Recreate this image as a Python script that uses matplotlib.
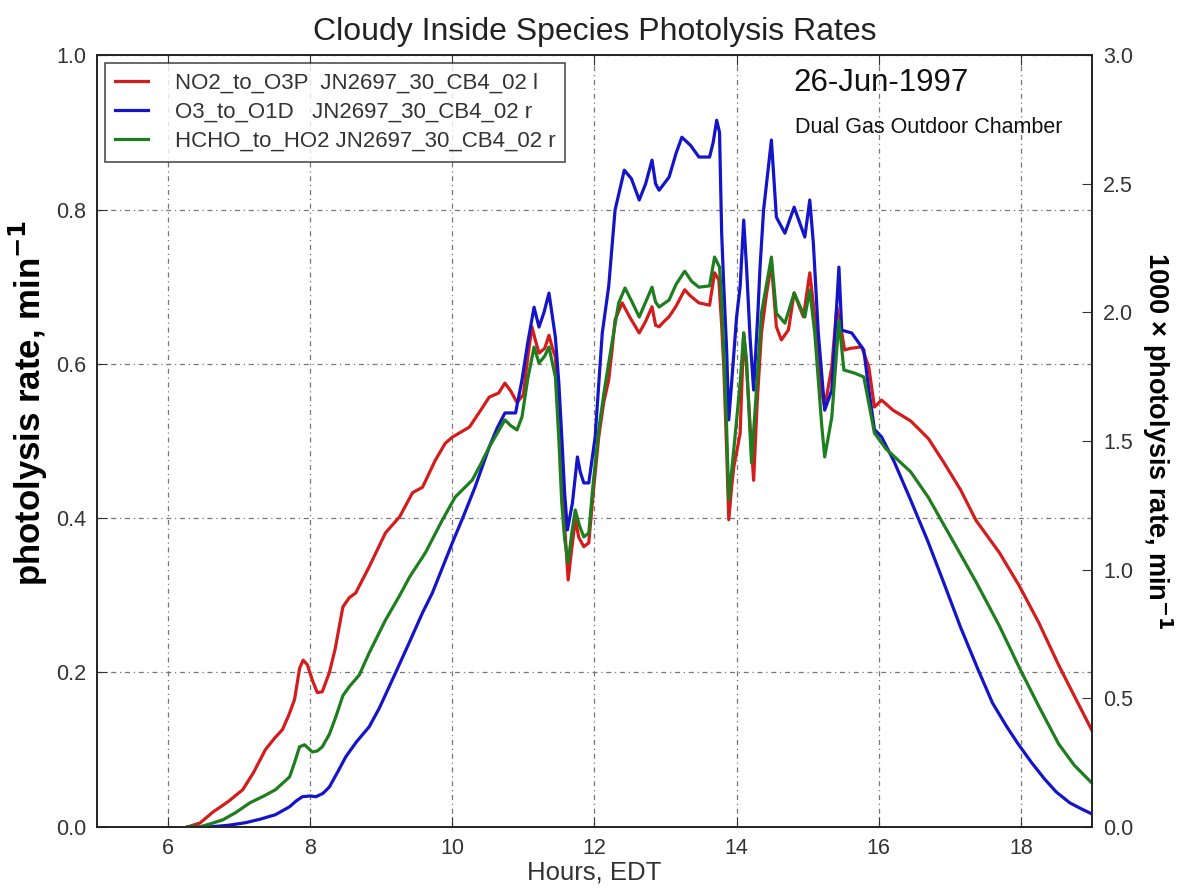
import numpy as np
import matplotlib
matplotlib.use("Agg")
import matplotlib.pyplot as plt

plt.rcParams['font.family'] = ['Liberation Sans', 'DejaVu Sans']

# NO2 -> O3P, left axis (min^-1)
red_hours = [6.28, 6.45, 6.63, 6.85, 7.05, 7.2, 7.37, 7.5, 7.61, 7.7, 7.78, 7.85, 7.9, 7.96,
             8.03, 8.10, 8.17, 8.27, 8.35, 8.46, 8.55, 8.64, 8.83, 8.95, 9.06, 9.26, 9.44, 9.58,
             9.76, 9.9, 10.0, 10.24, 10.4, 10.52, 10.65, 10.74, 10.82, 10.91, 11.0, 11.05, 11.12,
             11.17, 11.22, 11.3, 11.36, 11.41, 11.45, 11.5, 11.54, 11.58, 11.63, 11.68, 11.73,
             11.78, 11.85, 11.92, 11.98, 12.06, 12.13, 12.2, 12.25, 12.29, 12.39, 12.5, 12.63,
             12.72, 12.81, 12.86, 12.91, 12.98, 13.05, 13.15, 13.27, 13.35, 13.47, 13.62, 13.69,
             13.75, 13.79, 13.82, 13.86, 13.89, 13.93, 13.96, 14.01, 14.05, 14.1, 14.14, 14.19,
             14.24, 14.29, 14.35, 14.42, 14.49, 14.56, 14.63, 14.73, 14.81, 14.88, 14.94, 15.03,
             15.1, 15.15, 15.2, 15.24, 15.34, 15.41, 15.48, 15.52, 15.6, 15.76, 15.86, 15.94,
             16.04, 16.2, 16.45, 16.7, 16.91, 17.15, 17.37, 17.7, 17.98, 18.25, 18.53, 18.75, 19.0]
red_vals = [0.0, 0.005, 0.019, 0.033, 0.048, 0.07, 0.10, 0.115, 0.126, 0.145, 0.165, 0.205, 0.216,
            0.21, 0.19, 0.174, 0.175, 0.2, 0.23, 0.285, 0.297, 0.303, 0.337, 0.36, 0.381, 0.402,
            0.433, 0.44, 0.475, 0.497, 0.505, 0.518, 0.54, 0.557, 0.562, 0.575, 0.565, 0.55, 0.56,
            0.6, 0.648, 0.63, 0.614, 0.62, 0.637, 0.62, 0.609, 0.55, 0.462, 0.39, 0.32, 0.36,
            0.398, 0.375, 0.363, 0.368, 0.43, 0.505, 0.55, 0.579, 0.62, 0.657, 0.679, 0.66, 0.64,
            0.655, 0.674, 0.65, 0.648, 0.655, 0.661, 0.675, 0.696, 0.688, 0.679, 0.676, 0.718,
            0.709, 0.65, 0.596, 0.488, 0.398, 0.44, 0.466, 0.49, 0.51, 0.64, 0.596, 0.52, 0.449,
            0.55, 0.64, 0.69, 0.73, 0.648, 0.631, 0.644, 0.692, 0.675, 0.661, 0.718, 0.661, 0.61,
            0.562, 0.544, 0.596, 0.674, 0.64, 0.618, 0.62, 0.622, 0.596, 0.544, 0.553, 0.54,
            0.526, 0.503, 0.473, 0.437, 0.397, 0.355, 0.312, 0.265, 0.21, 0.17, 0.125]

# O3 -> O1D, right axis (1000 x min^-1)
blue_hours = [6.28, 6.6, 6.85, 7.09, 7.3, 7.51, 7.71, 7.8, 7.89, 8.0, 8.08, 8.18, 8.27, 8.4, 8.5,
              8.65, 8.83, 8.97, 9.2, 9.4, 9.58, 9.72, 10.0, 10.16, 10.32, 10.52, 10.63, 10.74,
              10.89, 10.98, 11.06, 11.15, 11.22, 11.29, 11.36, 11.45, 11.5, 11.54, 11.58, 11.62,
              11.69, 11.76, 11.8, 11.85, 11.92, 12.01, 12.06, 12.11, 12.2, 12.29, 12.42, 12.52,
              12.63, 12.72, 12.81, 12.86, 12.91, 13.05, 13.15, 13.23, 13.35, 13.47, 13.62, 13.67,
              13.72, 13.76, 13.79, 13.82, 13.86, 13.89, 13.93, 14.0, 14.05, 14.1, 14.14, 14.19,
              14.24, 14.3, 14.33, 14.38, 14.49, 14.56, 14.68, 14.81, 14.96, 15.03, 15.08, 15.15,
              15.24, 15.34, 15.44, 15.48, 15.62, 15.79, 15.86, 15.94, 16.04, 16.22, 16.45, 16.69,
              16.9, 17.15, 17.4, 17.6, 17.8, 17.96, 18.15, 18.33, 18.5, 18.69, 18.85, 19.0]
blue_vals = [0.0, 0.0, 0.006, 0.016, 0.03, 0.047, 0.078, 0.10, 0.117, 0.12, 0.117, 0.13, 0.155,
             0.22, 0.272, 0.33, 0.389, 0.46, 0.598, 0.72, 0.832, 0.91, 1.104, 1.21, 1.321, 1.477,
             1.55, 1.609, 1.609, 1.737, 1.88, 2.02, 1.943, 2.0, 2.075, 1.904, 1.72, 1.516, 1.3,
             1.154, 1.259, 1.438, 1.38, 1.337, 1.337, 1.516, 1.72, 1.92, 2.1, 2.398, 2.553, 2.52,
             2.437, 2.5, 2.592, 2.5, 2.475, 2.526, 2.62, 2.681, 2.65, 2.604, 2.604, 2.66, 2.747,
             2.7, 2.308, 2.1, 1.854, 1.582, 1.725, 1.982, 2.1, 2.359, 2.176, 1.9, 1.698, 2.0,
             2.176, 2.398, 2.67, 2.37, 2.308, 2.409, 2.293, 2.437, 2.27, 1.92, 1.62, 1.698, 2.176,
             1.931, 1.92, 1.854, 1.7, 1.545, 1.516, 1.418, 1.27, 1.111, 0.96, 0.777, 0.61, 0.482,
             0.39, 0.323, 0.25, 0.187, 0.135, 0.093, 0.07, 0.05]

# HCHO -> HO2, right axis (1000 x min^-1)
green_hours = [6.28, 6.45, 6.6, 6.77, 6.95, 7.15, 7.35, 7.51, 7.71, 7.78, 7.85, 7.92, 8.03, 8.1,
               8.17, 8.27, 8.36, 8.46, 8.55, 8.69, 8.83, 9.06, 9.26, 9.4, 9.62, 9.86, 10.04,
               10.28, 10.4, 10.52, 10.74, 10.82, 10.91, 10.98, 11.06, 11.15, 11.22, 11.3, 11.36,
               11.45, 11.5, 11.54, 11.58, 11.63, 11.68, 11.73, 11.79, 11.85, 11.92, 11.98, 12.06,
               12.13, 12.2, 12.34, 12.43, 12.53, 12.63, 12.72, 12.81, 12.86, 12.91, 13.05, 13.15,
               13.27, 13.37, 13.47, 13.62, 13.69, 13.76, 13.79, 13.82, 13.86, 13.89, 13.96, 14.05,
               14.1, 14.14, 14.21, 14.28, 14.35, 14.49, 14.56, 14.68, 14.81, 14.96, 15.03, 15.1,
               15.2, 15.24, 15.34, 15.44, 15.51, 15.66, 15.79, 15.94, 16.1, 16.45, 16.7, 16.91,
               17.15, 17.37, 17.7, 17.98, 18.25, 18.53, 18.75, 19.0]
green_vals = [0.0, 0.0, 0.012, 0.027, 0.055, 0.093, 0.12, 0.144, 0.194, 0.25, 0.311, 0.319,
              0.291, 0.295, 0.311, 0.36, 0.427, 0.51, 0.545, 0.59, 0.676, 0.804, 0.9, 0.972,
              1.065, 1.193, 1.282, 1.348, 1.41, 1.477, 1.582, 1.56, 1.543, 1.593, 1.74, 1.865,
              1.803, 1.83, 1.865, 1.749, 1.5, 1.259, 1.12, 1.026, 1.14, 1.232, 1.17, 1.127, 1.142,
              1.33, 1.543, 1.68, 1.803, 2.036, 2.095, 2.04, 1.982, 2.04, 2.098, 2.04, 2.021, 2.048,
              2.11, 2.16, 2.12, 2.098, 2.103, 2.215, 2.176, 2.05, 1.854, 1.55, 1.271, 1.465, 1.725,
              1.92, 1.815, 1.415, 1.7, 1.997, 2.215, 1.997, 1.958, 2.075, 1.982, 2.087, 1.92,
              1.554, 1.438, 1.593, 1.97, 1.776, 1.764, 1.749, 1.531, 1.47, 1.38, 1.28, 1.177, 1.06,
              0.952, 0.78, 0.618, 0.47, 0.323, 0.24, 0.17]

labels = ["NO2_to_O3P  JN2697_30_CB4_02 l",
          "O3_to_O1D   JN2697_30_CB4_02 r",
          "HCHO_to_HO2 JN2697_30_CB4_02 r"]
colors = ["#d41c1c", "#1414c8", "#1e7d1e"]

fig = plt.figure(figsize=(11.83, 8.90), dpi=100)
ax = fig.add_axes([0.082, 0.071, 0.841, 0.867])
ax2 = ax.twinx()

l1, = ax.plot(red_hours, red_vals, color=colors[0], lw=2.3, label=labels[0])
l2, = ax2.plot(blue_hours, blue_vals, color=colors[1], lw=2.3, label=labels[1])
l3, = ax2.plot(green_hours, green_vals, color=colors[2], lw=2.3, label=labels[2])

ax.set_xlim(5, 19)
ax.set_ylim(0, 1.0)
ax2.set_ylim(0, 3.0)
ax.set_xticks([6, 8, 10, 12, 14, 16, 18])
ax.set_yticks(np.arange(0, 1.01, 0.2))
ax2.set_yticks(np.arange(0, 3.01, 0.5))
ax.yaxis.set_major_formatter(matplotlib.ticker.FormatStrFormatter('%.1f'))
ax2.yaxis.set_major_formatter(matplotlib.ticker.FormatStrFormatter('%.1f'))

ax.grid(True, color='#777777', linestyle=(0, (4, 3, 1, 3)), linewidth=0.9)
ax.tick_params(direction='in', length=7, labelsize=15.5, top=True, pad=8, colors='#333333')
ax2.tick_params(direction='in', length=7, labelsize=15.5, pad=8, colors='#333333')
for a in (ax, ax2):
    for s in a.spines.values():
        s.set_linewidth(1.2)
        s.set_color('#222222')

ax.set_xlabel("Hours, EDT", fontsize=18.5, labelpad=1, color='#333333')
ax.set_ylabel("photolysis rate, min$^{\\mathbf{-1}}$", fontsize=25, fontweight='bold')
ax.yaxis.set_label_coords(-0.047, 0.55)
ax2.set_ylabel("1000 \u00d7 photolysis rate, min$^{\\mathbf{-1}}$", fontsize=19.5, fontweight='bold',
               rotation=270, labelpad=30)
ax.set_title("Cloudy Inside Species Photolysis Rates", fontsize=23, pad=11, color='#222222')

ax.text(0.7, 0.983, "26-Jun-1997", transform=ax.transAxes, fontsize=22.5, va='top', color='#111111')
ax.text(0.702, 0.92, "Dual Gas Outdoor Chamber", transform=ax.transAxes, fontsize=15.5, va='top',
        color='#111111')

leg = ax2.legend(handles=[l1, l2, l3], loc='upper left', bbox_to_anchor=(0.0, 1.0),
                 borderaxespad=0.35, fontsize=16, handlelength=1.5, frameon=True, fancybox=False,
                 borderpad=0.45, labelspacing=0.35, handletextpad=1.2)
leg.get_frame().set_edgecolor('#222222')
leg.get_frame().set_linewidth(1.2)
for t in leg.get_texts():
    t.set_color('#333333')

fig.savefig("out.png", dpi=100)
